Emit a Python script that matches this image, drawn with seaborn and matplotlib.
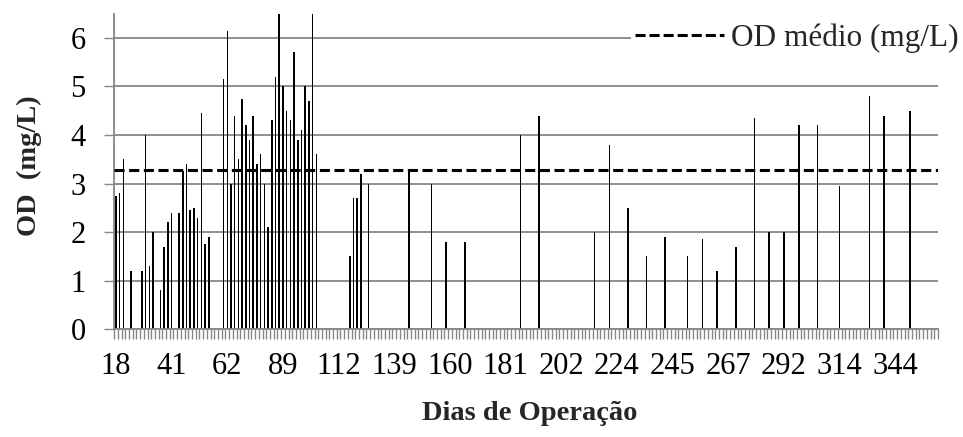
import numpy as np
import pandas as pd
import matplotlib
matplotlib.use("Agg")
import matplotlib.pyplot as plt
import seaborn as sns
from matplotlib.lines import Line2D

# ---------------- data ----------------
n_categories = 222            # number of category slots on the x axis
label_step = 15               # a tick label every 15 categories
tick_labels = [18, 41, 62, 89, 112, 139, 160, 181, 202, 224, 245, 267, 292, 314, 344]

bar_category = [0, 1, 2, 4, 7, 8, 9, 10, 12, 13, 14, 15, 17, 18, 19, 20, 21, 22, 23, 24, 25,
                29, 30, 31, 32, 33, 34, 35, 36, 37, 38, 39, 40, 41, 42, 43, 44, 45, 46, 47, 48,
                49, 50, 51, 52, 53, 54,
                63, 64, 65, 66, 68, 79, 85, 89, 94, 109, 114, 129, 133, 138, 143,
                148, 154, 158, 162, 167, 172, 176, 180, 184, 189, 195, 203, 207, 214]
od_values = [2.75, 2.8, 3.5, 1.2, 1.2, 4.0, 1.3, 2.0, 0.8, 1.7, 2.2, 2.4, 2.4, 3.25, 3.4, 2.45,
             2.5, 2.3, 4.45, 1.75, 1.9,
             5.15, 6.15, 3.0, 4.4, 3.5, 4.75, 4.2, 3.9, 4.4, 3.4, 3.6, 3.0, 2.1, 4.3, 5.2,
             7.0, 5.0, 4.5, 4.3, 5.7, 3.9, 4.1, 5.0, 4.7, 7.0, 3.6,
             1.5, 2.7, 2.7, 3.2, 3.0, 3.28, 3.0, 1.8, 1.8, 4.0, 4.4, 2.0, 3.8, 2.5, 1.5,
             1.9, 1.5, 1.85, 1.2, 1.7, 4.35, 2.0, 2.0, 4.2, 4.2, 2.95, 4.8, 4.4, 4.5]
od_mean = 3.28
legend_label = "OD médio (mg/L)"
y_label = "OD  (mg/L)"
x_label = "Dias de Operação"

df = pd.DataFrame({"cat": bar_category, "od": od_values})

# ---------------- style ----------------
sns.set_theme(style="white")
plt.rcParams["font.family"] = ["Liberation Serif", "DejaVu Serif"]
grey = "#868686"

W, H = 963, 437
fig = plt.figure(figsize=(W / 100, H / 100), dpi=100)
x0, x1, ytop, ybot = 114.1, 938.0, 13.5, 329.3
ax = fig.add_axes([x0 / W, 1 - ybot / H, (x1 - x0) / W, (ybot - ytop) / H])

sns.barplot(data=df, x="cat", y="od", order=list(range(n_categories)),
            color="black", width=0.42, errorbar=None, saturation=1,
            edgecolor="none", linewidth=0, ax=ax)

ax.axhline(od_mean, color="black", lw=2.2, dashes=(3.3, 1.5), zorder=5)

ax.set_xlim(-0.5, n_categories - 0.5)
ax.set_ylim(0, 6.5)
ax.set_yticks(range(0, 7))
ax.set_yticklabels([str(v) for v in range(0, 7)])
ax.set_xticks([i * label_step for i in range(len(tick_labels))])
ax.set_xticklabels([str(t) for t in tick_labels])
ax.set_xticks(np.arange(-0.5, n_categories, 1), minor=True)
ax.set_xlabel("")
ax.set_ylabel("")

ax.yaxis.grid(True, color=grey, lw=1.3)
ax.xaxis.grid(False)
ax.set_axisbelow(True)
for s in ["top", "right"]:
    ax.spines[s].set_visible(False)
for s in ["left", "bottom"]:
    ax.spines[s].set_color(grey)
    ax.spines[s].set_linewidth(1.3)

ax.tick_params(axis="x", which="major", length=0, pad=16, labelsize=22, colors="black")
ax.tick_params(axis="x", which="minor", length=7.5, width=1.0, color=grey, direction="out",
               bottom=True)
ax.tick_params(axis="y", which="major", length=7.5, width=1.0, color=grey, direction="out",
               pad=13, labelsize=22, labelcolor="black", left=True)

fig.text(29 / W, 1 - 166 / H, y_label, rotation=90, fontsize=20.5, fontweight="bold",
         ha="center", va="center")
fig.text(530 / W, 1 - 414 / H, x_label, fontsize=20.5, fontweight="bold",
         ha="center", va="center")

handle = Line2D([], [], color="black", lw=2.2, dashes=(3.3, 1.3))
leg = ax.legend([handle], [legend_label], loc="center right",
                bbox_to_anchor=(1.0, 1 - 38 / H), bbox_transform=fig.transFigure,
                fontsize=22.5, frameon=True, facecolor="white", edgecolor="none",
                framealpha=1, borderpad=0.15, borderaxespad=0, handlelength=2.85,
                handletextpad=0.2)
leg.get_frame().set_linewidth(0)

fig.savefig("out.png", dpi=100)
